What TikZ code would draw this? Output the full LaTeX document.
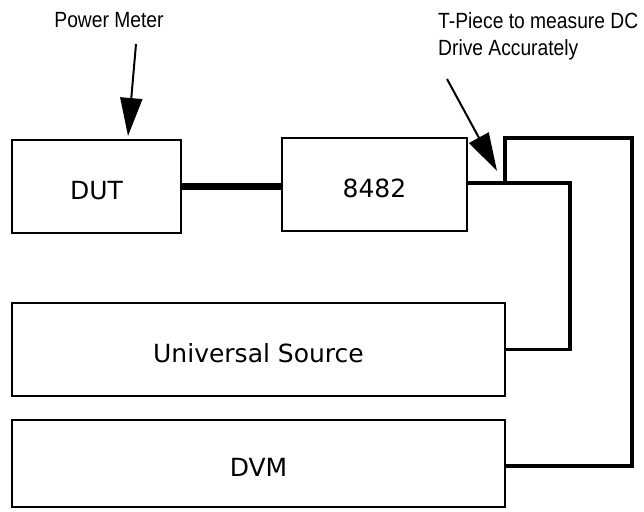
\documentclass[tikz,border=0pt]{standalone}
\usepackage{fontspec}
\setmainfont{Liberation Sans}
\newfontfamily\boxfont{DejaVu Sans}
\newfontfamily\lblfont[FakeStretch=0.875]{Liberation Sans}
\usetikzlibrary{arrows.meta}
\begin{document}
\begin{tikzpicture}[x=1pt,y=-1pt,
  unit/.style={draw, line width=2pt, inner sep=0pt, text height=25pt, text depth=0pt, font=\boxfont\fontsize{25}{29}\selectfont},
  cable/.style={line width=7pt},
  wire/.style={line width=3.2pt, line cap=rect},
  ptr/.style={line width=2pt, -{Triangle[length=38pt,width=22pt]}},
  lbl/.style={inner sep=0pt, font=\lblfont\fontsize{22}{27}\selectfont}
]
\useasboundingbox (0,0) rectangle (644,511);
% units
\node[unit, minimum width=169pt, minimum height=93pt] (dut) at (96.5,186.5) {DUT};
\node[unit, minimum width=185pt, minimum height=93pt] (sensor) at (374.5,184.5) {8482};
\node[unit, minimum width=493pt, minimum height=93pt] (src) at (258.5,349.5) {Universal Source};
\node[unit, minimum width=493pt, minimum height=87pt] (dvm) at (258.5,463.5) {DVM};
% labels
\node[lbl, anchor=base] (pm) at (109,28) {Power Meter};
\node[lbl, anchor=north west, align=left] (tp) at (438,12) {T-Piece to measure DC\\Drive Accurately};
% cable DUT - 8482
\draw[cable] (dut.east) -- (dut.east -| sensor.west);
% T-piece wiring
\coordinate (tj) at (505,183);
\coordinate (tr) at (570,183);
\coordinate (tt) at (505,138);
\coordinate (br) at (632,138);
\coordinate (bb) at (632,466);
\draw[wire] (sensor.east |- tj) -- (tr) -- (tr |- src.east) -- (src.east);
\draw[wire] (tj) -- (tt) -- (br) -- (bb) -- (bb -| dvm.east);
% arrows
\coordinate (pmtail) at (136,44);
\coordinate (pmtip) at (128,136);
\draw[ptr] (pmtail) -- (pmtip);
\coordinate (tptail) at (447,79);
\coordinate (tptip) at (497,171);
\draw[ptr] (tptail) -- (tptip);
\end{tikzpicture}
\end{document}
